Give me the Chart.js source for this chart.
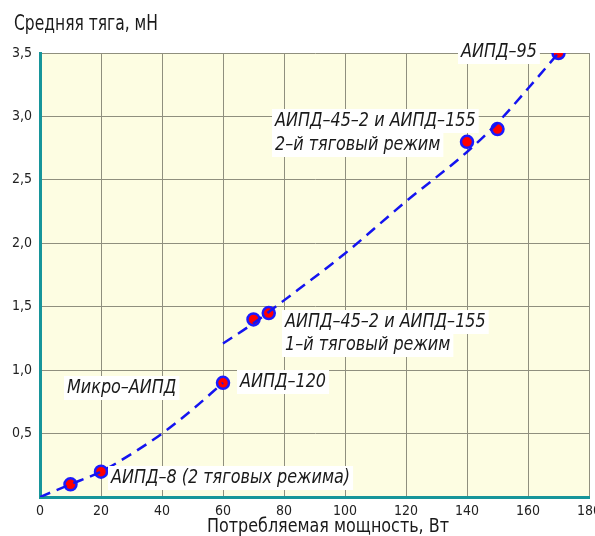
<!DOCTYPE html>
<html><head><meta charset="utf-8">
<script src="https://cdn.jsdelivr.net/npm/chart.js@4/dist/chart.umd.min.js"></script>
<style>html,body{margin:0;padding:0;background:#fff}#w{width:595px;height:536px;position:relative}</style>
</head><body><div id="w"><canvas id="c" width="595" height="536"></canvas></div>
<script>
const xTicks = [0,20,40,60,80,100,120,140,160,180];
const yTicks = [0,0.5,1.0,1.5,2.0,2.5,3.0,3.5];
const pointX = [10,20,60,70,75,140,150,170];
const pointY = [0.1,0.2,0.9,1.4,1.45,2.8,2.9,3.5];
const curve1X = [0,10,20,30,40,50,60];
const curve1Y = [0,0.1,0.2,0.34,0.5,0.69,0.9];
const curve2X = [60,70,80,100,120,140,150,160,170];
const curve2Y = [1.21,1.37,1.55,1.92,2.33,2.72,2.95,3.22,3.5];
const labels = [
  {text:"АИПД–95", x:461, y:52},
  {text:"АИПД–45–2 и АИПД–155", x:275, y:121},
  {text:"2–й тяговый режим", x:275, y:145},
  {text:"АИПД–45–2 и АИПД–155", x:285, y:322},
  {text:"1–й тяговый режим", x:285, y:345},
  {text:"АИПД–120", x:240, y:382},
  {text:"Микро–АИПД", x:67, y:388},
  {text:"АИПД–8 (2 тяговых режима)", x:111, y:478}
];
const yTitle = "Средняя тяга, мН";
const xTitle = "Потребляемая мощность, Вт";
const FONT = '"Liberation Sans Narrow","DejaVu Sans Condensed","Liberation Sans",sans-serif';

const pts = pointX.map((x,i)=>({x, y:pointY[i]}));
const c1 = curve1X.map((x,i)=>({x, y:curve1Y[i]}));
const c2 = curve2X.map((x,i)=>({x, y:curve2Y[i]}));

function squeezed(ctx, text, x, y, targetW, align, bg){
  const w = ctx.measureText(text).width;
  const sx = targetW / w;
  ctx.save();
  let left = align==='center' ? x - targetW/2 : x;
  if(bg){ ctx.fillStyle='#ffffff'; ctx.fillRect(left-3, y-12, targetW+6, 24); }
  ctx.translate(left, y); ctx.scale(sx,1);
  ctx.fillStyle='#1a1a1a'; ctx.textAlign='left'; ctx.textBaseline='middle';
  ctx.fillText(text, 0, 0);
  ctx.restore();
}

const bgPlugin = {
  id:'bg',
  beforeDraw(chart){
    const {ctx, chartArea:a} = chart;
    ctx.save(); ctx.fillStyle='#fdfde2';
    ctx.fillRect(a.left,a.top,a.right-a.left,a.bottom-a.top); ctx.restore();
  },
  afterDraw(chart){
    const ctx = chart.ctx;
    ctx.save();
    ctx.font = '21px '+FONT;
    squeezed(ctx, yTitle, 14, 25, 144, 'left', false);
    ctx.font = '20px '+FONT;
    squeezed(ctx, xTitle, 328, 527, 242, 'center', false);
    ctx.font = 'italic 20px '+FONT;
    labels.forEach(l=>{
      const w = ctx.measureText(l.text).width * 0.89;
      squeezed(ctx, l.text, l.x, l.y, w, 'left', true);
    });
    ctx.restore();
  }
};

new Chart(document.getElementById('c'), {
  type:'scatter',
  data:{datasets:[
    {type:'line', data:c1, borderColor:'#1414f0', borderWidth:2.5, borderDash:[11,7], pointRadius:0, cubicInterpolationMode:'monotone', fill:false},
    {type:'line', data:c2, borderColor:'#1414f0', borderWidth:2.5, borderDash:[11,7], pointRadius:0, cubicInterpolationMode:'monotone', fill:false},
    {data:pts, backgroundColor:'#ff0000', borderColor:'#1a1aff', borderWidth:2.5, pointRadius:6, pointHoverRadius:6}
  ]},
  plugins:[bgPlugin],
  options:{
    responsive:false, animation:false,
    layout:{autoPadding:false, padding:{top:53, right:6, left:0, bottom:0}},
    plugins:{legend:{display:false}, tooltip:{enabled:false}},
    scales:{
      x:{type:'linear', min:0, max:180,
        afterBuildTicks(s){ s.ticks = xTicks.map(v=>({value:v})); },
        afterFit(s){ s.height = 39; s.paddingLeft = 0; s.paddingRight = 0; },
        grid:{color:'#8f8f7e', lineWidth:1, drawTicks:false},
        border:{color:'#17959a', width:3},
        ticks:{padding:6, color:'#222', font:{family:FONT, size:14}, maxRotation:0, autoSkip:false}
      },
      y:{type:'linear', min:0, max:3.5,
        afterBuildTicks(s){ s.ticks = yTicks.map(v=>({value:v})); },
        afterFit(s){ s.width = 40; s.paddingTop = 0; s.paddingBottom = 0; },
        grid:{color:'#8f8f7e', lineWidth:1, drawTicks:false},
        border:{color:'#17959a', width:3},
        ticks:{padding:8, color:'#222', font:{family:FONT, size:14},
          callback:v=> v===0 ? '' : v.toFixed(1).replace('.',',')}
      }
    }
  }
});
</script></body></html>
